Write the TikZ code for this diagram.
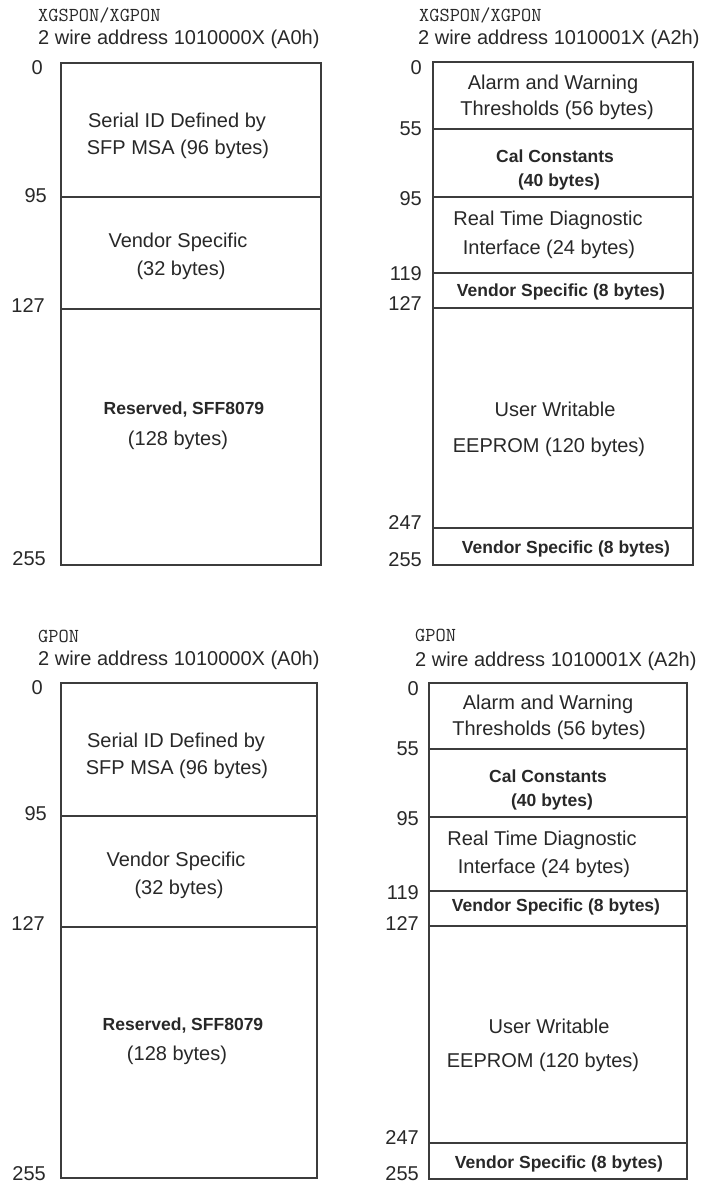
\documentclass[tikz,border=0pt]{standalone}
\usepackage{fontspec}
\setmainfont{Liberation Sans}
\definecolor{ink}{RGB}{40,40,40}
\definecolor{rule}{RGB}{60,60,60}
\tikzset{
  txt/.style={inner sep=0pt, text=ink, text height=14.4pt, text depth=0pt, font=\fontsize{20}{24}\selectfont},
  btxt/.style={inner sep=0pt, text=ink, text height=12.6pt, text depth=0pt, font=\fontsize{17.5}{21}\selectfont\bfseries},
  num/.style={txt, anchor=east},
  hdr/.style={txt, anchor=west},
  mono/.style={inner sep=0pt, text=ink, text height=12.1pt, text depth=0pt, anchor=west, font=\fontsize{19.8}{24}\selectfont\ttfamily},
  mapbox/.style={draw=rule, line width=1.6pt},
  divider/.style={draw=rule, line width=1.6pt}
}
\begin{document}
\begin{tikzpicture}[x=1pt,y=-1pt]
\useasboundingbox (0,0) rectangle (707,1184);
\fill[white] (0,0) rectangle (707,1184);

% ===== Top-left: XGSPON A0h =====
\node[mono] (tlh1) at (38,15) {XGSPON/XGPON};
\node[hdr] (tlh2) at (38,37) {2 wire address 1010000X (A0h)};
\draw[mapbox] (61,63) rectangle (321,565);
\draw[divider] (61,197) -- (321,197);
\draw[divider] (61,309) -- (321,309);
\node[num] (tl0) at (43,67) {0};
\node[num] (tl95) at (47,195) {95};
\node[num] (tl127) at (45,305) {127};
\node[num] (tl255) at (46,558) {255};
\node[txt] (tla1) at (177,120) {Serial ID Defined by};
\node[txt] (tla2) at (178,147) {SFP MSA (96 bytes)};
\node[txt] (tlb1) at (178,240) {Vendor Specific};
\node[txt] (tlb2) at (181,268) {(32 bytes)};
\node[btxt] (tlc1) at (184,408) {Reserved, SFF8079};
\node[txt] (tlc2) at (178,438) {(128 bytes)};

% ===== Top-right: XGSPON A2h =====
\node[mono] (trh1) at (419,15) {XGSPON/XGPON};
\node[hdr] (trh2) at (418,37) {2 wire address 1010001X (A2h)};
\draw[mapbox] (433,62) rectangle (693,565);
\foreach \yy in {129,197,273,308,528} \draw[divider] (433,\yy) -- (693,\yy);
\node[num] (tr0) at (422,67) {0};
\node[num] (tr55) at (422,128) {55};
\node[num] (tr95) at (422,198) {95};
\node[num] (tr119) at (422,273) {119};
\node[num] (tr127) at (422,303) {127};
\node[num] (tr247) at (422,522) {247};
\node[num] (tr255) at (422,559) {255};
\node[txt] (tra1) at (553,82) {Alarm and Warning};
\node[txt] (tra2) at (557,108) {Thresholds (56 bytes)};
\node[btxt] (trb1) at (555,156) {Cal Constants};
\node[btxt] (trb2) at (559,180) {(40 bytes)};
\node[txt] (trc1) at (548,218) {Real Time Diagnostic};
\node[txt] (trc2) at (549,247) {Interface (24 bytes)};
\node[btxt] (trd) at (561,290) {Vendor Specific (8 bytes)};
\node[txt] (tre1) at (555,409) {User Writable};
\node[txt] (tre2) at (549,445) {EEPROM (120 bytes)};
\node[btxt] (trf) at (566,547) {Vendor Specific (8 bytes)};

% ===== Bottom-left: GPON A0h =====
\node[mono] (blh1) at (38,636) {GPON};
\node[hdr] (blh2) at (38,658) {2 wire address 1010000X (A0h)};
\draw[mapbox] (61,683) rectangle (317,1178);
\draw[divider] (61,816) -- (317,816);
\draw[divider] (61,927) -- (317,927);
\node[num] (bl0) at (43,687) {0};
\node[num] (bl95) at (47,813) {95};
\node[num] (bl127) at (45,923) {127};
\node[num] (bl255) at (46,1173) {255};
\node[txt] (bla1) at (176,740) {Serial ID Defined by};
\node[txt] (bla2) at (177,767) {SFP MSA (96 bytes)};
\node[txt] (blb1) at (176,859) {Vendor Specific};
\node[txt] (blb2) at (179,887) {(32 bytes)};
\node[btxt] (blc1) at (183,1024) {Reserved, SFF8079};
\node[txt] (blc2) at (177,1053) {(128 bytes)};

% ===== Bottom-right: GPON A2h =====
\node[mono] (brh1) at (415,635) {GPON};
\node[hdr] (brh2) at (415,659) {2 wire address 1010001X (A2h)};
\draw[mapbox] (429,683) rectangle (687,1179);
\foreach \yy in {749,817,891,926,1143} \draw[divider] (429,\yy) -- (687,\yy);
\node[num] (br0) at (419,688) {0};
\node[num] (br55) at (419,748) {55};
\node[num] (br95) at (419,818) {95};
\node[num] (br119) at (419,892) {119};
\node[num] (br127) at (419,923) {127};
\node[num] (br247) at (419,1137) {247};
\node[num] (br255) at (419,1173) {255};
\node[txt] (bra1) at (548,702) {Alarm and Warning};
\node[txt] (bra2) at (549,728) {Thresholds (56 bytes)};
\node[btxt] (brb1) at (548,776) {Cal Constants};
\node[btxt] (brb2) at (552,800) {(40 bytes)};
\node[txt] (brc1) at (542,838) {Real Time Diagnostic};
\node[txt] (brc2) at (544,866) {Interface (24 bytes)};
\node[btxt] (brd) at (556,905) {Vendor Specific (8 bytes)};
\node[txt] (bre1) at (549,1026) {User Writable};
\node[txt] (bre2) at (543,1060) {EEPROM (120 bytes)};
\node[btxt] (brf) at (559,1162) {Vendor Specific (8 bytes)};
\end{tikzpicture}
\end{document}
